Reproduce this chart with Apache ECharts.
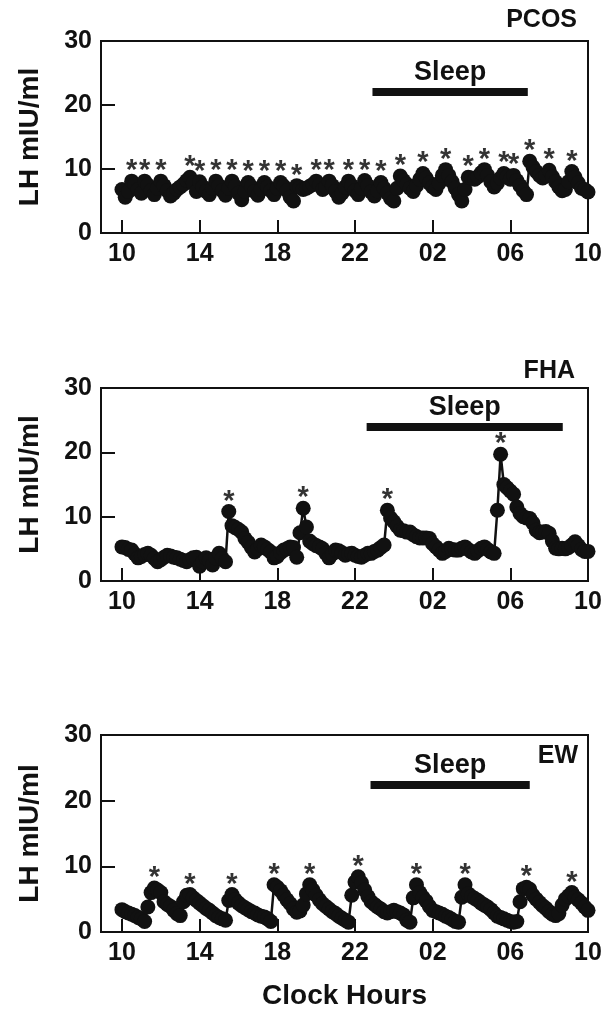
<!DOCTYPE html>
<html>
<head>
<meta charset="utf-8">
<script src="https://cdn.jsdelivr.net/npm/echarts@6/dist/echarts.min.js"></script>
<style>
html,body{margin:0;padding:0;background:#fff;}
#chart{width:608px;height:1010px;}
</style>
</head>
<body>
<div id="chart"></div>
<script>
// Sampling schedule: every 10 minutes from 10:00 to 10:00 next day
const sampleStartHour = 10;
const sampleStepHours = 1 / 6;

// Tick labels (hours, running past midnight)
const hourTicks = [10, 14, 18, 22, 26, 30, 34];
const hourTickLabels = ['10', '14', '18', '22', '02', '06', '10'];

// LH (mIU/ml) values, 10-minute samples
const pcosLH = [
 6.8,5.6,6.5,8.1,7.6,6.8,6.2,8.1,7.5,6.6,6.0,7.0,8.1,7.4,6.6,5.8,6.2,6.8,7.2,7.6,
 8.2,8.7,7.8,6.5,8.0,7.2,6.5,6.0,7.0,8.1,7.4,6.6,5.9,7.0,8.1,7.3,6.2,5.2,6.5,7.9,
 7.2,6.5,5.9,6.8,7.9,7.2,6.6,6.0,7.0,7.9,7.3,6.6,5.6,5.0,7.4,7.1,6.8,7.0,7.3,7.6,
 8.1,7.5,6.8,7.2,8.1,7.4,6.5,5.6,6.2,7.2,8.1,7.4,6.6,6.0,7.0,8.2,7.4,6.4,5.8,6.6,
 7.9,7.0,6.2,5.4,5.0,7.0,8.9,8.2,7.6,7.0,6.5,7.4,8.4,9.3,8.6,7.8,7.2,6.8,7.8,9.0,
 9.9,9.0,8.0,7.0,6.0,5.0,6.8,8.7,8.6,8.4,8.8,9.4,9.9,9.0,8.0,7.2,7.8,8.6,9.3,8.8,
 8.4,9.0,8.2,7.4,6.6,6.0,11.2,10.3,9.6,9.0,8.6,9.0,9.8,8.8,8.0,7.2,6.6,6.8,8.0,9.6,
 8.7,7.8,7.0,6.8,6.4
];
const fhaLH = [
 5.3,5.2,4.9,4.8,4.2,3.6,3.8,4.1,4.3,4.0,3.5,3.0,3.3,3.7,4.0,3.9,3.7,3.6,3.4,3.2,
 3.0,3.3,3.6,3.7,2.3,3.0,3.6,3.2,2.5,3.6,4.3,3.5,3.0,10.8,8.6,8.3,8.0,7.6,6.6,6.0,
 5.2,4.5,5.0,5.6,5.3,4.9,4.5,3.6,3.8,4.4,4.8,5.0,5.3,5.2,3.7,7.5,11.3,8.4,6.2,5.8,
 5.5,5.3,5.0,4.3,3.6,4.2,4.8,4.7,4.4,4.0,4.2,4.3,4.0,3.8,3.7,4.0,4.3,4.3,4.6,4.8,
 5.2,5.6,11.0,9.8,9.2,8.5,7.9,7.8,7.6,7.6,7.2,6.9,6.7,6.7,6.7,6.6,5.8,5.3,4.8,4.3,
 4.6,5.1,4.9,4.8,4.8,5.1,5.3,4.9,4.5,4.3,4.7,5.1,5.3,4.9,4.5,4.3,11.0,19.7,15.0,14.5,
 14.0,13.5,11.5,10.5,10.0,9.8,9.7,9.0,7.9,7.5,7.6,7.7,7.4,6.2,5.1,5.0,5.1,5.0,5.2,5.6,
 6.1,5.5,4.9,4.6,4.6
];
const ewLH = [
 3.4,3.1,2.9,2.7,2.5,2.2,2.0,1.6,3.8,6.0,6.7,6.4,6.0,4.6,4.2,3.9,3.3,2.8,2.5,4.6,
 5.6,5.7,5.2,4.8,4.4,4.0,3.6,3.3,2.9,2.5,2.2,2.0,1.8,4.8,5.7,4.9,4.4,4.0,3.7,3.4,
 3.1,2.9,2.6,2.4,2.3,2.0,1.6,7.2,6.8,6.3,5.6,4.9,4.3,3.5,3.0,3.2,4.1,5.8,7.2,6.4,
 5.6,4.9,4.3,3.9,3.5,3.1,2.8,2.4,2.1,1.8,1.5,5.6,7.6,8.4,7.5,6.4,5.4,4.6,4.2,3.8,
 3.5,3.1,2.9,3.1,3.3,3.1,2.9,2.6,1.8,1.5,5.2,7.2,6.0,5.3,4.7,3.9,3.3,3.1,2.9,2.7,
 2.4,2.2,1.9,1.6,1.5,5.3,7.2,5.8,5.4,5.1,4.8,4.4,4.1,3.8,3.4,2.9,2.4,2.2,2.0,1.8,
 1.6,1.5,1.6,4.6,6.6,6.8,6.5,5.6,5.0,4.5,4.0,3.6,3.1,2.7,2.5,2.8,4.1,5.0,5.5,6.0,
 5.3,4.9,4.4,3.8,3.3
];

// Sample indices of detected pulses (asterisks)
const pcosPulseIdx = [3,7,12,21,24,29,34,39,44,49,54,60,64,70,75,80,86,93,100,107,112,118,121,126,132,139];
const fhaPulseIdx = [33,56,82,117];
const ewPulseIdx = [10,21,34,47,58,73,91,106,125,139];

// Sleep periods: [start hour, end hour, LH level of bar]
const pcosSleep = [22.9, 30.9, 22];
const fhaSleep = [22.6, 32.7, 24];
const ewSleep = [22.8, 31.0, 22.4];

const panelNames = ['PCOS', 'FHA', 'EW'];

const FONT = "'Liberation Sans', Arial, Helvetica, sans-serif";
const INK = '#111';

function toPairs(vals) {
  return vals.map((v, i) => [sampleStartHour + i * sampleStepHours, v]);
}
function pulsePairs(vals, idx) {
  return idx.map(i => [sampleStartHour + i * sampleStepHours, vals[i]]);
}

const grids = [
  {left: 101, top: 41, width: 487, height: 192},
  {left: 101, top: 388, width: 487, height: 193},
  {left: 101, top: 735, width: 487, height: 197}
].map(g => Object.assign(g, {show: true, borderColor: INK, borderWidth: 2, backgroundColor: 'transparent', containLabel: false, outerBoundsMode: 'none'}));

const xAxes = [0,1,2].map(k => ({
  type: 'value', gridIndex: k, min: 8.92, max: 34,
  splitLine: {show: false},
  axisLine: {show: true, lineStyle: {color: INK, width: 2}},
  axisTick: {show: true, inside: true, length: 13, lineStyle: {color: INK, width: 2}, customValues: hourTicks},
  axisLabel: {
    show: true, customValues: hourTicks, margin: 9,
    formatter: v => hourTickLabels[hourTicks.indexOf(v)],
    fontFamily: FONT, fontWeight: 'bold', fontSize: 25, color: INK
  },
  name: k === 2 ? 'Clock Hours' : '',
  nameLocation: 'middle', nameGap: 50,
  nameTextStyle: {fontFamily: FONT, fontWeight: 'bold', fontSize: 28, color: INK}
}));

const yAxes = [0,1,2].map(k => ({
  type: 'value', gridIndex: k, min: 0, max: 30, interval: 10,
  splitLine: {show: false},
  axisLine: {show: true, lineStyle: {color: INK, width: 2}},
  axisTick: {show: true, inside: true, length: 14, lineStyle: {color: INK, width: 2}},
  axisLabel: {margin: 9, fontFamily: FONT, fontWeight: 'bold', fontSize: 25, color: INK},
  name: 'LH mIU/ml', nameLocation: 'middle', nameGap: 57, nameRotate: 90,
  nameTextStyle: {fontFamily: FONT, fontWeight: 'bold', fontSize: 28, color: INK}
}));

const datasets = [pcosLH, fhaLH, ewLH];
const pulses = [pcosPulseIdx, fhaPulseIdx, ewPulseIdx];
const sleeps = [pcosSleep, fhaSleep, ewSleep];

const series = [];
[0,1,2].forEach(k => {
  const s = sleeps[k];
  series.push({
    type: 'line', xAxisIndex: k, yAxisIndex: k,
    data: toPairs(datasets[k]),
    symbol: 'circle', symbolSize: 15, showSymbol: true,
    lineStyle: {color: INK, width: 2.5},
    itemStyle: {color: INK},
    silent: true,
    markLine: {
      silent: true, symbol: ['none', 'none'], animation: false,
      lineStyle: {color: INK, width: 8, type: 'solid', cap: 'butt'},
      label: {
        show: true, formatter: 'Sleep', position: 'insideMiddleTop', distance: 6,
        fontFamily: FONT, fontWeight: 'bold', fontSize: 27, color: INK
      },
      emphasis: {disabled: true},
      data: [[{coord: [s[0], s[2]]}, {coord: [s[1], s[2]]}]]
    }
  });
  series.push({
    type: 'scatter', xAxisIndex: k, yAxisIndex: k,
    data: pulsePairs(datasets[k], pulses[k]),
    symbol: 'circle', symbolSize: 15,
    itemStyle: {color: 'rgba(0,0,0,0)'},
    silent: true, z: 5,
    label: {
      show: true, formatter: '*', position: 'inside', offset: [0, -10],
      fontFamily: FONT, fontWeight: 'bold', fontSize: 29, color: '#000'
    }
  });
});

const titles = [
  {text: panelNames[0], right: 31, top: 8},
  {text: panelNames[1], right: 33, top: 359},
  {text: panelNames[2], right: 30, top: 744}
].map(t => Object.assign(t, {padding: 0, textStyle: {fontFamily: FONT, fontWeight: 'bold', fontSize: 25, color: INK}}));

const chart = echarts.init(document.getElementById('chart'), null, {renderer: 'canvas'});
chart.setOption({
  animation: false,
  backgroundColor: '#fff',
  title: titles,
  grid: grids,
  xAxis: xAxes,
  yAxis: yAxes,
  series: series
});
</script>
</body>
</html>
